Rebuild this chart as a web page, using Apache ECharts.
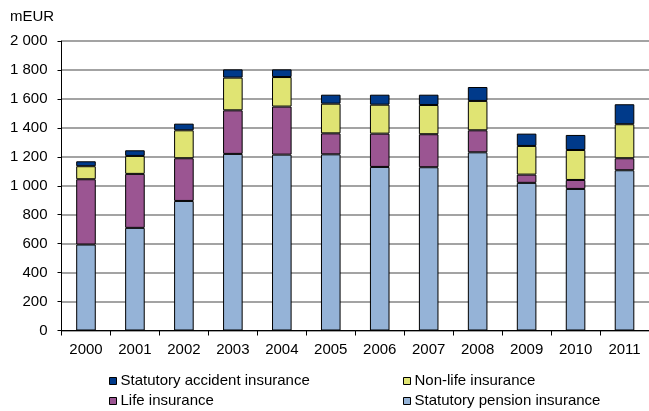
<!DOCTYPE html>
<html><head><meta charset="utf-8">
<script src="https://cdn.jsdelivr.net/npm/echarts@6/dist/echarts.min.js"></script>
<style>html,body{margin:0;padding:0;background:#fff}#c{width:649px;height:411px}</style>
</head><body><div id="c"></div>
<script>
const years = ['2000','2001','2002','2003','2004','2005','2006','2007','2008','2009','2010','2011'];
const pension = [594, 709, 895, 1220, 1215, 1217, 1130, 1128, 1231, 1020, 978, 1107];
const life = [451, 373, 295, 301, 332, 145, 230, 228, 152, 57, 62, 83];
const nonLife = [90, 124, 193, 226, 204, 205, 200, 202, 203, 198, 207, 235];
const accident = [34, 39, 46, 57, 53, 62, 69, 71, 96, 85, 104, 138];
const yTicks = [0, 200, 400, 600, 800, 1000, 1200, 1400, 1600, 1800, 2000];
const names = ['Statutory pension insurance','Life insurance','Non-life insurance','Statutory accident insurance'];
const colors = ['#95B3D7','#9B5592','#E0E473','#003A8A'];
const font = 'Liberation Sans, Arial, sans-serif';

const chart = echarts.init(document.getElementById('c'), null, {renderer:'canvas'});
function fmt(v){ return v >= 1000 ? Math.floor(v/1000) + ' ' + String(v % 1000).padStart(3,'0') : String(v); }
const dataSets = [pension, life, nonLife, accident];
const legendBase = {orient:'vertical', top:373.5, height:40, padding:0, itemWidth:7, itemHeight:7, itemGap:5,
  icon:'rect', itemStyle:{borderColor:'#000', borderWidth:1},
  textStyle:{fontSize:15, color:'#000', fontFamily:font, lineHeight:15, padding:[0,0,0,-1]}};
chart.setOption({
  animation:false,
  textStyle:{fontFamily:font},
  graphic:[{type:'text', left:10, top:9, style:{text:'mEUR', font:'15px ' + font, fill:'#000'}}],
  grid:{left:61.5, top:41, right:-5.5, bottom:80.5, containLabel:false},
  legend:[
    Object.assign({}, legendBase, {left:109, data:[names[3], names[1]]}),
    Object.assign({}, legendBase, {left:403, data:[names[2], names[0]]})
  ],
  xAxis:{type:'category', data:years, boundaryGap:true,
    axisLine:{lineStyle:{color:'#000', width:1}},
    axisTick:{show:true, length:5, lineStyle:{color:'#000'}, alignWithLabel:false},
    axisLabel:{fontSize:15, color:'#000', margin:12, fontFamily:font}},
  yAxis:{type:'value', min:yTicks[0], max:yTicks[yTicks.length-1], interval:yTicks[1]-yTicks[0],
    axisLine:{show:true, lineStyle:{color:'#000', width:1}},
    axisTick:{show:true, length:4, lineStyle:{color:'#000'}},
    axisLabel:{fontSize:15, color:'#000', margin:14, formatter:fmt, fontFamily:font},
    splitLine:{show:true, lineStyle:{color:'#858585', width:1.5}}},
  series: dataSets.map((d,i)=>({
    name:names[i], type:'bar', stack:'total', data:d, barWidth:'40%',
    itemStyle:{color:colors[i], borderColor:'#000', borderWidth:1}
  }))
});
</script></body></html>
